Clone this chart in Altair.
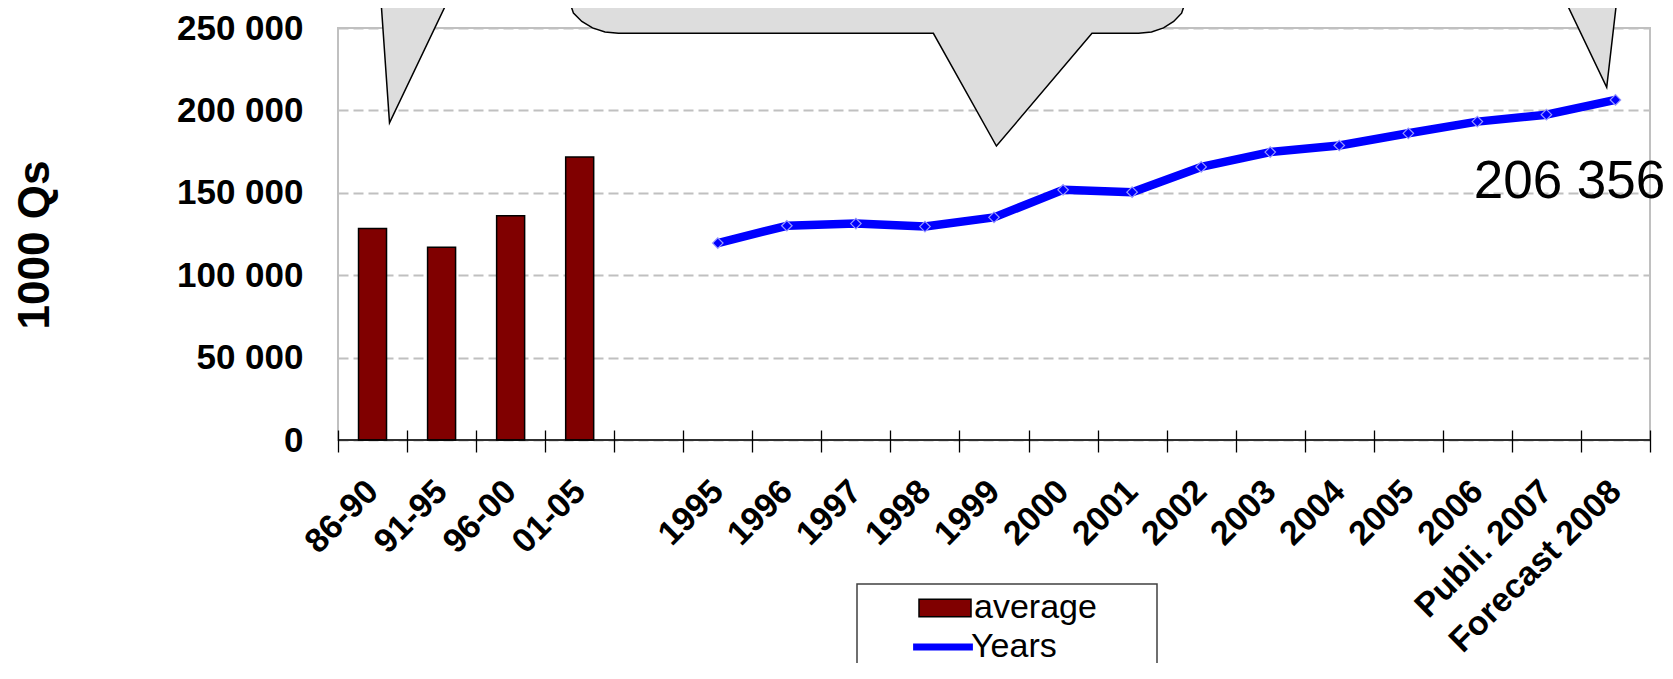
import altair as alt
import pandas as pd

# ---------------- data ----------------
periods = ["86-90", "91-95", "96-00", "01-05"]
avg_values = [128300, 116900, 136100, 171700]

years = ["1995", "1996", "1997", "1998", "1999", "2000", "2001", "2002",
         "2003", "2004", "2005", "2006", "Publi. 2007", "Forecast 2008"]
year_values = [119500, 130000, 131300, 129500, 135100, 151800, 150400,
               165700, 174700, 178700, 186100, 193200, 197400, 206356]

gap = [" "]
categories = periods + gap + years
y_ticks = [0, 50000, 100000, 150000, 200000, 250000]

# callout shapes (decoration), in category-index / value units
callout_id = ["left"] * 3 + ["middle"] * 15 + ["right"] * 3
callout_u = [0.592, 0.746, 1.800,
             3.311, 3.410, 3.531, 3.686, 3.867, 4.061, 8.622, 9.535, 10.919,
             11.594, 11.781, 11.955, 12.102, 12.217, 12.314,
             17.563, 18.373, 18.569]
callout_v = [285000, 192400, 285000,
             271240, 259010, 253940, 250060, 247640, 246790, 246790, 178400, 246790,
             246790, 247640, 250060, 253940, 259010, 271240,
             285000, 214000, 285000]
callout_top = 285000

FONT = "Liberation Sans"
W, H = 1312, 412

bars_df = pd.DataFrame({"cat": periods, "value": avg_values, "series": "average"})
line_df = pd.DataFrame({"cat": years, "value": year_values, "series": "Years"})
zero_df = pd.DataFrame({"value": [0]})
frame_df = pd.DataFrame({"k": [0]})
callout_df = pd.DataFrame({"id": callout_id, "u": callout_u, "v": callout_v,
                           "v2": [callout_top] * len(callout_u)})

yscale = alt.Scale(domain=[0, 250000], nice=False, zero=True)


def band():
    return alt.Scale(type="band", domain=categories, paddingInner=0, paddingOuter=0)


x_axis = alt.Axis(
    title=None, labelAngle=315, labelAlign="right", labelBaseline="middle",
    labelFont=FONT, labelFontSize=34, labelFontWeight="bold", labelColor="black",
    labelPadding=34, labelLimit=500, labelOverlap=False, labelFlush=False,
    tickBand="extent", tickSize=22, tickColor="black", tickWidth=1.3,
    offset=-10, domain=False, grid=False,
)
y_axis = alt.Axis(
    values=y_ticks,
    labelExpr="replace(format(datum.value, ','), ',', ' ')",
    labelFont=FONT, labelFontSize=35, labelFontWeight="bold", labelColor="black",
    labelPadding=35, ticks=False, domain=False,
    grid=True, gridColor="#c0c0c0", gridDash=[10, 5], gridWidth=2,
    title="1000 Qs", titleFont=FONT, titleFontSize=44, titleFontWeight="bold",
    titleColor="black", titleAngle=270, titleX=-290, titleY=216.5,
    titleBaseline="alphabetic", titleAlign="center",
)

bars = alt.Chart(bars_df).mark_bar(stroke="black", strokeWidth=1.5, size=28).encode(
    x=alt.X("cat:N", scale=band(), axis=x_axis),
    y=alt.Y("value:Q", scale=yscale, axis=y_axis),
    fill=alt.Fill("series:N", scale=alt.Scale(domain=["average"], range=["#800000"]),
                  legend=alt.Legend(
                      orient="none", legendX=560, legendY=563, title=None,
                      padding=0,
                      symbolType="M-2,-0.68H2V0.68H-2Z", symbolSize=676,
                      symbolStrokeColor="black", symbolStrokeWidth=1.5,
                      symbolOffset=30, labelOffset=12,
                      labelFont=FONT, labelFontSize=34, labelColor="black",
                  )),
)

zero_rule = alt.Chart(zero_df).mark_rule(color="black", strokeWidth=1.5).encode(
    y=alt.Y("value:Q", scale=yscale, axis=y_axis)
)

line = alt.Chart(line_df).mark_line(strokeWidth=8.5, strokeJoin="round").encode(
    x=alt.X("cat:N", scale=band(), axis=None),
    y=alt.Y("value:Q", scale=yscale, axis=y_axis),
    color=alt.Color("series:N", scale=alt.Scale(domain=["Years"], range=["#0000ff"]),
                    legend=alt.Legend(
                        orient="none", legendX=558, legendY=602, title=None,
                        padding=0, symbolType="M-2.3,0H2.3", symbolSize=676,
                        symbolStrokeWidth=7, symbolOffset=30, labelOffset=11,
                        labelFont=FONT, labelFontSize=34, labelColor="black",
                    )),
)

points = alt.Chart(line_df).mark_point(
    shape="diamond", filled=True, size=110, fill="#0000ff", stroke="#9a9aff",
    strokeWidth=1.2, opacity=1,
).encode(
    x=alt.X("cat:N", scale=band(), axis=None),
    y=alt.Y("value:Q", scale=yscale, axis=y_axis),
)

last_label = alt.Chart(line_df.tail(1)).transform_calculate(
    lab="replace(format(datum.value, ','), ',', ' ')"
).mark_text(font=FONT, fontSize=53, align="center", baseline="middle",
            dx=-46, dy=82, color="black").encode(
    x=alt.X("cat:N", scale=band(), axis=None),
    y=alt.Y("value:Q", scale=yscale, axis=y_axis),
    text="lab:N",
)

callouts = alt.Chart(callout_df).mark_area(
    fill="#dddddd", stroke="black", strokeWidth=1.5, interpolate="linear",
    opacity=1, fillOpacity=1,
).encode(
    x=alt.X("u:Q", scale=alt.Scale(domain=[0, 19], nice=False, zero=False), axis=None),
    y=alt.Y("v:Q", scale=yscale, axis=y_axis),
    y2="v2:Q",
    detail="id:N",
)

# legend frame (decoration around the two legends)
frame = alt.Chart(frame_df).mark_rect(
    fill="transparent", stroke="#404040", strokeWidth=1.5
).encode(
    x=alt.value(519), x2=alt.value(819), y=alt.value(556), y2=alt.value(720)
)

chart = alt.layer(bars, zero_rule, line, points, last_label, callouts, frame).resolve_scale(
    x="independent"
).properties(
    width=W, height=H,
    autosize=alt.AutoSizeParams(type="none"),
    padding={"left": 330, "top": 20, "right": 15, "bottom": 223},
    background="white",
).configure_view(stroke="#c0c0c0", strokeWidth=2)

chart.save("out.html", embed_options={"renderer": "svg", "actions": False})
